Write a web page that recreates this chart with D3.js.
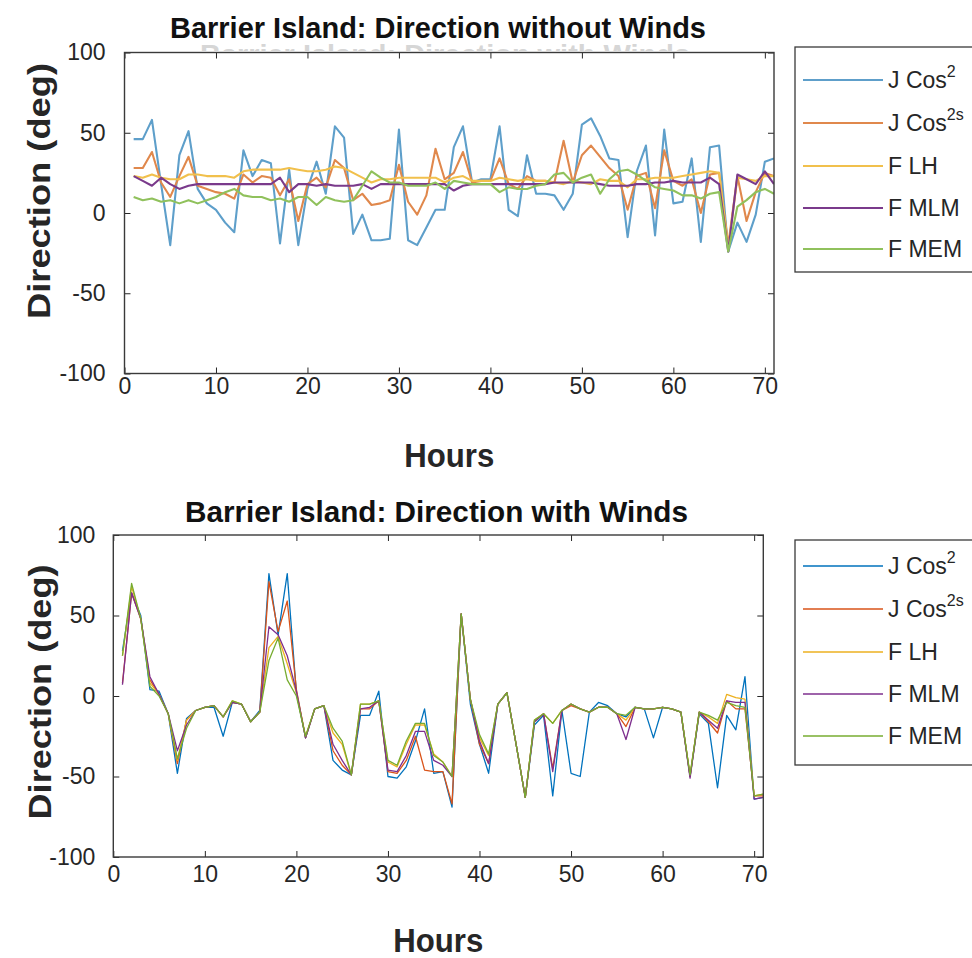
<!DOCTYPE html>
<html>
<head>
<meta charset="utf-8">
<script src="https://cdn.jsdelivr.net/npm/d3@7"></script>
<style>
  html, body { margin: 0; padding: 0; background: #fff; }
  svg { display: block; font-family: "Liberation Sans", Arial, sans-serif; }
</style>
</head>
<body>
<svg id="chart" width="972" height="958"></svg>
<script>
// Hour index shared by both panels
const hours = [1,2,3,4,5,6,7,8,9,10,11,12,13,14,15,16,17,18,19,20,21,22,23,24,25,26,27,28,29,30,
  31,32,33,34,35,36,37,38,39,40,41,42,43,44,45,46,47,48,49,50,51,52,53,54,55,56,57,58,59,60,
  61,62,63,64,65,66,67,68,69,70,71];

const xTicks = [0, 10, 20, 30, 40, 50, 60, 70];
const yTicks = [-100, -50, 0, 50, 100];

// Legend text: base label + superscript
const legendBase = ["J Cos", "J Cos", "F LH", "F MLM", "F MEM"];
const legendSup  = ["2", "2s", "", "", ""];

// Direction (deg) without winds
const noWindJCos2  = [46,46,58,18,-20,36,51,15,6,2, -6,-12,39,23,33,31,-19,27,-20,15, 32,12,54,47,-13,-1,-17,-17,-16,52,
  -17,-20,-9,2,2,41,54,19,21,21, 54,2,-2,36,12,12,11,2,12,55, 59,48,34,33,-15,26,42,-14,52,6, 7,34,-18,41,42,-24,-6,-18,-1,32,34];
const noWindJCos2s = [28,28,38,19,10,23,35,17,15,13, 12,9,24,19,23,22,11,21,-5,18, 22,16,33,28,8,12,5,6,8,30,
  7,-1,11,40,21,25,38,19,20,20, 34,18,15,23,20,20,19,45,19,36, 42,35,28,23,2,23,25,3,39,20, 17,21,0,24,25,-20,23,-5,13,25,23];
const noWindFLH    = [23,22,24,22,21,21,24,24,23,23, 23,22,26,27,27,27,27,28,27,26, 26,27,29,28,25,22,19,21,21,22,
  22,22,22,22,19,22,23,20,20,20, 22,21,20,21,20,20,19,18,20,19, 18,21,20,20,16,21,21,22,22,22, 23,24,25,26,25,-22,22,21,20,23,23];
const noWindFMLM   = [23,20,17,22,18,15,17,18,18,18, 18,18,18,18,18,18,22,13,18,18, 17,18,17,17,17,18,15,18,18,18,
  18,18,18,18,18,14,17,18,18,18, 18,18,18,18,18,18,19,19,19,19, 19,18,17,17,17,18,18,19,19,20, 19,19,19,22,18,-24,24,21,18,26,18];
const noWindFMEM   = [10,8,9,7,8,6,8,6,8,10, 13,15,11,10,10,8,9,7,10,10, 5,10,8,7,8,17,26,22,19,19,
  17,17,17,19,15,20,19,18,18,18, 13,16,15,15,17,18,24,25,19,22, 24,12,21,26,27,24,20,16,15,14, 11,11,9,12,13,-24,4,8,13,15,12];

// Direction (deg) with winds
const windJCos2  = [28,64,50,4,3,-11,-48,-14,-9,-7, -7,-25,-4,-5,-16,-9,76,38,76,2, -26,-8,-6,-40,-46,-49,-12,-12,3,-50,
  -51,-44,-28,-8,-48,-47,-69,51,-5,-30, -48,-5,2,-30,-63,-18,-12,-62,-9,-48, -50,-10,-4,-6,-11,-13,-7,-8,-26,-7, -8,-10,-50,-11,-17,-57,-12,-21,12,-64,-63];
const windJCos2s = [8,64,48,10,1,-11,-42,-15,-9,-7, -6,-13,-4,-5,-16,-10,71,40,59,4, -26,-8,-6,-34,-43,-49,-8,-8,-3,-47,
  -48,-40,-25,-46,-47,-47,-67,51,-2,-30, -42,-5,2,-30,-63,-16,-11,-45,-9,-6, -8,-10,-7,-7,-11,-19,-7,-8,-8,-7, -8,-10,-50,-10,-16,-23,-3,-8,-8,-62,-62];
const windFLH    = [25,68,48,8,1,-11,-40,-15,-9,-7, -6,-13,-3,-5,-16,-10,30,37,20,2, -25,-8,-6,-23,-30,-49,-5,-5,-3,-41,
  -44,-30,-18,-18,-36,-41,-50,51,-2,-26, -37,-5,2,-30,-63,-15,-11,-17,-9,-5, -8,-10,-7,-7,-11,-15,-7,-8,-8,-7, -8,-10,-49,-10,-13,-17,1,-1,-2,-62,-61];
const windFMLM   = [7,64,48,12,1,-11,-34,-18,-9,-7, -6,-13,-4,-5,-16,-10,43,38,25,3, -26,-8,-6,-30,-40,-49,-8,-7,-3,-46,
  -47,-37,-22,-22,-40,-43,-50,51,-2,-28, -42,-5,2,-30,-63,-16,-11,-47,-9,-5, -8,-10,-7,-7,-11,-27,-7,-8,-8,-7, -8,-10,-51,-10,-15,-20,-3,-4,-4,-64,-63];
const windFMEM   = [25,70,48,6,0,-11,-39,-20,-9,-7, -6,-13,-3,-5,-16,-10,22,36,10,0, -25,-8,-6,-20,-28,-49,-5,-5,-3,-40,
  -43,-28,-17,-17,-37,-41,-50,51,-2,-24, -36,-5,2,-30,-63,-15,-11,-17,-9,-5, -8,-10,-7,-7,-11,-12,-7,-8,-8,-7, -8,-10,-49,-10,-12,-15,-4,-6,-7,-62,-61];

const softColors  = ["#5e9fca", "#e0884c", "#f1c04c", "#7a3a8b", "#90c15c"];
const sharpColors = ["#0072bd", "#d95319", "#edb120", "#7e2f8e", "#77ac30"];

const svg = d3.select("#chart");
const ink = "#262626";

const panels = [
  {
    title: "Barrier Island: Direction without Winds",
    titleX: 438, titleY: 38, titleW: 536,
    frame: { l: 124.5, r: 774, t: 52.5, b: 373.5 },
    series: [noWindJCos2, noWindJCos2s, noWindFLH, noWindFMLM, noWindFMEM],
    colors: softColors, lineW: 2.1,
    yPad: 19, xPad: 4,
    ylabelX: 50, ylabelY: 191, ylabelLen: 256,
    xlabelY: 467, xlabelW: 90,
    legend: { x: 795, t: 47, b: 272, rows: [80, 123, 166, 208, 249] },
    ghost: true
  },
  {
    title: "Barrier Island: Direction with Winds",
    titleX: 436.5, titleY: 522, titleW: 503,
    frame: { l: 113.3, r: 763.3, t: 535, b: 857 },
    series: [windJCos2, windJCos2s, windFLH, windFMLM, windFMEM],
    colors: sharpColors, lineW: 1.3,
    yPad: 18, xPad: 9,
    ylabelX: 51, ylabelY: 692, ylabelLen: 255,
    xlabelY: 952, xlabelW: 90,
    legend: { x: 795, t: 540, b: 765, rows: [566, 609, 652, 694, 736] },
    ghost: false
  }
];

panels.forEach((p, pi) => {
  const f = p.frame;
  const x = d3.scaleLinear().domain([0, 71]).range([f.l, f.r]);
  const y = d3.scaleLinear().domain([-100, 100]).range([f.b, f.t]);

  // faint remnant of the lower panel's title, peeking out just above the top axes
  if (p.ghost) {
    svg.append("clipPath").attr("id", "ghostClip")
      .append("rect").attr("x", 0).attr("y", 43).attr("width", 972).attr("height", 8);
    svg.append("text")
      .attr("clip-path", "url(#ghostClip)")
      .attr("x", 445).attr("y", 64)
      .attr("text-anchor", "middle")
      .attr("font-weight", "bold").attr("font-size", 28)
      .attr("fill", "#d6d6d6")
      .attr("textLength", 490).attr("lengthAdjust", "spacingAndGlyphs")
      .text("Barrier Island: Direction with Winds");
  }

  // plot background
  svg.append("rect")
    .attr("x", f.l).attr("y", f.t)
    .attr("width", f.r - f.l).attr("height", f.b - f.t)
    .attr("fill", "#fff");

  // series lines
  const clipId = "plotClip" + pi;
  svg.append("clipPath").attr("id", clipId)
    .append("rect").attr("x", f.l).attr("y", f.t)
    .attr("width", f.r - f.l).attr("height", f.b - f.t);

  const line = d3.line().x((d, i) => x(hours[i])).y(d => y(d));
  const gLines = svg.append("g").attr("clip-path", `url(#${clipId})`);
  p.series.forEach((s, si) => {
    gLines.append("path")
      .datum(s)
      .attr("d", line)
      .attr("fill", "none")
      .attr("stroke", p.colors[si])
      .attr("stroke-width", p.lineW)
      .attr("stroke-linejoin", "round");
  });

  // axes: inward ticks on all four sides
  const styleAxis = g => {
    g.attr("font-family", null).attr("font-size", 23);
    g.select(".domain").remove();
    g.selectAll(".tick line").attr("stroke", ink).attr("stroke-width", 1);
    g.selectAll(".tick text").attr("fill", ink);
  };
  svg.append("g").attr("transform", `translate(0,${f.b})`)
    .call(d3.axisBottom(x).tickValues(xTicks).tickSizeInner(-6).tickSizeOuter(0)
      .tickPadding(p.xPad).tickFormat(d => String(d)))
    .call(styleAxis);
  svg.append("g").attr("transform", `translate(0,${f.t})`)
    .call(d3.axisTop(x).tickValues(xTicks).tickSizeInner(-6).tickSizeOuter(0).tickFormat(""))
    .call(styleAxis);
  svg.append("g").attr("transform", `translate(${f.l},0)`)
    .call(d3.axisLeft(y).tickValues(yTicks).tickSizeInner(-6).tickSizeOuter(0)
      .tickPadding(p.yPad).tickFormat(d => String(d)))
    .call(styleAxis);
  svg.append("g").attr("transform", `translate(${f.r},0)`)
    .call(d3.axisRight(y).tickValues(yTicks).tickSizeInner(-6).tickSizeOuter(0).tickFormat(""))
    .call(styleAxis);

  // frame
  svg.append("rect")
    .attr("x", f.l).attr("y", f.t)
    .attr("width", f.r - f.l).attr("height", f.b - f.t)
    .attr("fill", "none").attr("stroke", "#3a3a3a").attr("stroke-width", 1.4);

  // title
  svg.append("text")
    .attr("x", p.titleX).attr("y", p.titleY)
    .attr("text-anchor", "middle")
    .attr("font-weight", "bold").attr("font-size", 29)
    .attr("fill", "#111")
    .attr("textLength", p.titleW).attr("lengthAdjust", "spacingAndGlyphs")
    .text(p.title);

  // axis labels
  svg.append("text")
    .attr("x", (f.l + f.r) / 2).attr("y", p.xlabelY)
    .attr("text-anchor", "middle")
    .attr("font-weight", "bold").attr("font-size", 33)
    .attr("fill", ink)
    .attr("textLength", p.xlabelW).attr("lengthAdjust", "spacingAndGlyphs")
    .text("Hours");

  svg.append("text")
    .attr("transform", `translate(${p.ylabelX},${p.ylabelY}) rotate(-90)`)
    .attr("text-anchor", "middle")
    .attr("font-weight", "bold").attr("font-size", 31)
    .attr("fill", ink)
    .attr("textLength", p.ylabelLen).attr("lengthAdjust", "spacingAndGlyphs")
    .text("Direction (deg)");

  // legend
  const L = p.legend;
  svg.append("rect")
    .attr("x", L.x).attr("y", L.t)
    .attr("width", 990 - L.x).attr("height", L.b - L.t)
    .attr("fill", "#fff").attr("stroke", "#3a3a3a").attr("stroke-width", 1.3);
  L.rows.forEach((ry, i) => {
    svg.append("line")
      .attr("x1", L.x + 8).attr("x2", L.x + 88)
      .attr("y1", ry).attr("y2", ry)
      .attr("stroke", p.colors[i]).attr("stroke-width", p.lineW);
    const t = svg.append("text")
      .attr("x", L.x + 93).attr("y", ry + 8)
      .attr("font-size", 23).attr("fill", ink)
      .text(legendBase[i]);
    if (legendSup[i]) {
      t.append("tspan")
        .attr("dy", -11).attr("font-size", 16)
        .text(legendSup[i]);
    }
  });
});
</script>
</body>
</html>
